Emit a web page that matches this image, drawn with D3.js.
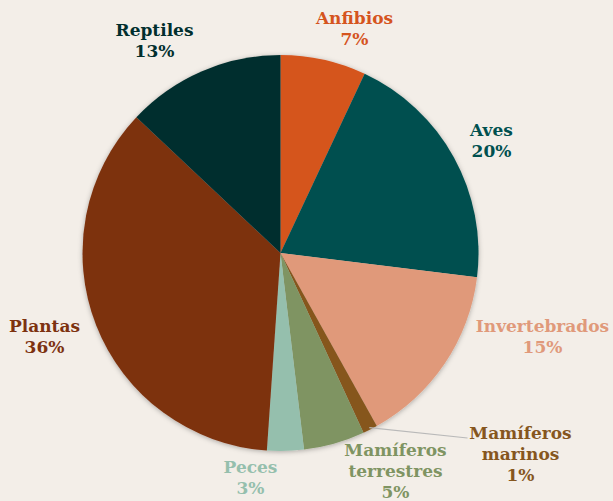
<!DOCTYPE html>
<html><head><meta charset="utf-8">
<script src="https://cdn.jsdelivr.net/npm/d3@7"></script>
<style>html,body{margin:0;padding:0;background:#F3EEE8;}svg{display:block;}</style>
</head><body>
<div id="chart"></div>
<script>
const categories = ["Anfibios","Aves","Invertebrados","Mamíferos marinos","Mamíferos terrestres","Peces","Plantas","Reptiles"];
const values = [7,20,15,1.2,5,3,36,13];
const valueLabels = ["7%","20%","15%","1%","5%","3%","36%","13%"];
const colors = ["#D5541E","#00504F","#E0997A","#86561E","#7F9462","#95BFAD","#7D3210","#012F2E"];
const labelLines = [["Anfibios"],["Aves"],["Invertebrados"],["Mamíferos","marinos"],["Mamíferos","terrestres"],["Peces"],["Plantas"],["Reptiles"]];

const W = 613, H = 501, cx = 280.5, cy = 253, R = 198;
const svg = d3.select("#chart").append("svg").attr("width", W).attr("height", H);
const defs = svg.append("defs");
const f = defs.append("filter").attr("id","sh").attr("x","-20%").attr("y","-20%").attr("width","140%").attr("height","140%");
f.append("feDropShadow").attr("dx",0).attr("dy",1).attr("stdDeviation",2.5).attr("flood-color","#000").attr("flood-opacity",0.3);

const data = categories.map((c,i)=>({name:c, value:values[i], label:valueLabels[i], color:colors[i], lines:labelLines[i]}));
const pie = d3.pie().value(d=>d.value).sort(null);
const arcs = pie(data);
const arc = d3.arc().innerRadius(0).outerRadius(R);
const g = svg.append("g").attr("transform",`translate(${cx},${cy})`);
g.append("g").attr("filter","url(#sh)").selectAll("path").data(arcs).join("path")
  .attr("d",arc).attr("fill",d=>d.data.color);

const labelPos = {
  "Anfibios":[74,-229],
  "Aves":[211,-117],
  "Invertebrados":[262,79],
  "Mamíferos marinos":[240,186],
  "Mamíferos terrestres":[115,203],
  "Peces":[-30,220],
  "Plantas":[-236,79],
  "Reptiles":[-126,-217]
};
const lineH = 21;
const mm = arcs[3];
const mid = (mm.startAngle+mm.endAngle)/2;
const p0 = [Math.sin(mid)*(R-2), -Math.cos(mid)*(R-2)];
g.append("line").attr("x1",p0[0]).attr("y1",p0[1]).attr("x2",187).attr("y2",185)
  .attr("stroke","#B9B9B9").attr("stroke-width",1.2);

const lg = g.append("g").attr("font-family","'DejaVu Serif', Georgia, serif").attr("font-weight","bold").attr("font-size",17).attr("text-anchor","middle");
arcs.forEach(a=>{
  const d = a.data;
  const [x,y] = labelPos[d.name];
  const t = lg.append("text").attr("x",x).attr("y",y).attr("fill",d.color);
  const lines = d.lines.concat([d.label]);
  lines.forEach((l,i)=>t.append("tspan").attr("x",x).attr("dy", i===0?0:lineH).text(l));
});
</script>
</body></html>
